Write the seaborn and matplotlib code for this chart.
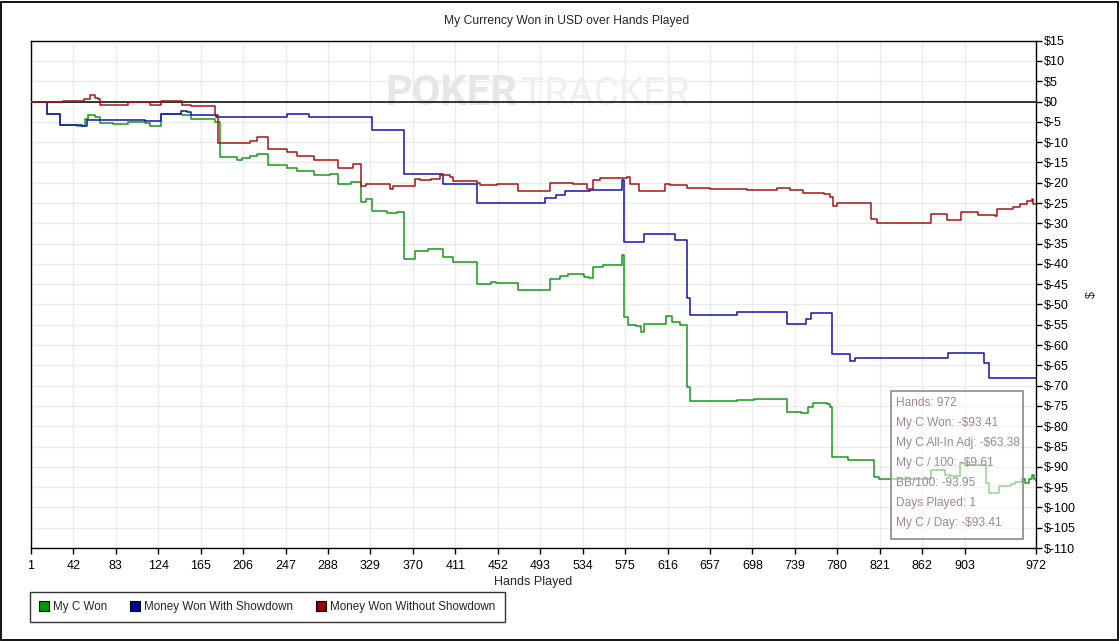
import numpy as np
import pandas as pd
import matplotlib
matplotlib.use("Agg")
import matplotlib.pyplot as plt
from matplotlib.patches import Rectangle
from matplotlib.lines import Line2D
import seaborn as sns

sns.set_style("white")
plt.rcParams['font.family'] = ['Liberation Sans', 'DejaVu Sans']

# ---------------- data ----------------
won_hands = [1, 16, 29, 45, 53, 56, 63, 68, 80, 95, 111, 116, 127, 147, 156, 179, 184, 200, 205,
             213, 219, 230, 248, 258, 274, 290, 298, 310, 320, 325, 330, 345, 355, 361, 372, 385,
             399, 409, 432, 445, 450, 472, 502, 512, 520, 530, 535, 540, 544, 554, 572, 574, 578,
             586, 590, 593, 615, 620, 628, 635, 638, 683, 700, 731, 745, 752, 757, 770, 773, 775,
             782, 790, 815, 820, 871, 884, 890, 899, 905, 924, 927, 936, 948, 952, 958, 961, 965,
             968, 970, 972]
won_vals = [0, -3.0, -5.7, -5.9, -4.3, -3.2, -3.8, -5.3, -5.5, -5.0, -5.3, -5.9, -3.0, -3.3, -4.3,
            -5.0, -13.7, -14.3, -14.0, -13.5, -13.0, -15.7, -16.3, -17.2, -18.0, -17.8, -20.2, -19.9,
            -24.8, -24.0, -27.0, -27.5, -27.3, -38.7, -36.7, -36.4, -38.3, -39.5, -44.9, -44.5, -44.8,
            -46.5, -43.6, -43.0, -42.4, -42.6, -43.2, -43.5, -40.8, -40.2, -37.9, -53.1, -55.1, -55.3,
            -56.8, -54.7, -52.9, -54.2, -55.1, -70.3, -73.9, -73.6, -73.4, -76.4, -76.8, -75.2, -74.2,
            -74.5, -75.3, -87.5, -87.6, -88.3, -92.4, -93.0, -90.8, -91.9, -92.3, -89.0, -89.5, -94.1,
            -96.5, -94.7, -94.3, -93.8, -93.1, -94.0, -93.0, -92.0, -93.0, -93.41]

sd_hands = [1, 16, 29, 50, 55, 111, 127, 146, 152, 156, 180, 248, 270, 330, 361, 399, 404, 432,
            498, 508, 517, 541, 572, 574, 593, 623, 635, 638, 683, 731, 750, 755, 775, 792, 797,
            887, 922, 927, 972]
sd_vals = [0, -3.0, -5.7, -6.0, -4.6, -4.8, -3.0, -2.2, -2.6, -3.4, -3.9, -3.1, -3.7, -7.1, -17.8,
           -20.4, -20.3, -24.9, -23.7, -23.1, -22.1, -21.9, -19.3, -34.6, -32.7, -34.0, -48.3, -52.7,
           -51.8, -54.7, -53.5, -52.0, -62.3, -63.8, -63.3, -62.0, -64.5, -68.2, -68.2]

nsd_hands = [1, 16, 32, 52, 58, 63, 66, 68, 95, 116, 127, 147, 156, 179, 182, 213, 219, 230, 248,
             258, 274, 298, 312, 320, 325, 338, 348, 351, 372, 377, 387, 396, 406, 409, 432, 435,
             451, 472, 502, 525, 538, 544, 551, 577, 580, 588, 614, 618, 635, 657, 693, 722, 734,
             747, 767, 773, 776, 780, 783, 813, 818, 871, 886, 900, 916, 932, 934, 950, 957, 963,
             968, 969, 972]
nsd_vals = [0, -0.2, 0.2, 0.7, 1.5, 1.0, 0.7, -0.8, -0.2, -0.9, 0.2, -0.8, -1.1, -3.4, -10.2, -9.6,
            -8.8, -11.8, -12.4, -13.3, -14.3, -16.4, -15.4, -20.7, -20.3, -20.2, -21.5, -20.9, -19.0,
            -19.3, -19.0, -18.2, -18.5, -19.6, -20.1, -20.5, -20.2, -22.1, -20.0, -20.3, -21.5, -19.3,
            -18.8, -18.6, -20.4, -22.1, -20.3, -20.6, -21.3, -21.5, -21.7, -21.4, -21.7, -22.5, -22.7,
            -23.5, -25.8, -25.0, -25.1, -28.9, -29.9, -27.8, -29.1, -27.2, -27.9, -28.3, -26.4, -26.0,
            -25.2, -24.6, -23.9, -25.2, -25.2]

series_names = ["My C Won", "Money Won With Showdown", "Money Won Without Showdown"]
line_colors = ["#159a15", "#1414a8", "#a81414"]
legend_colors = ["#009900", "#000099", "#990000"]

x_ticks = [1, 42, 83, 124, 165, 206, 247, 288, 329, 370, 411, 452, 493, 534, 575, 616, 657,
           698, 739, 780, 821, 862, 903, 972]
y_ticks = list(range(15, -111, -5))

stats_lines = ["Hands: 972", "My C Won: -$93.41", "My C All-In Adj: -$63.38",
               "My C / 100: -$9.61", "BB/100: -93.95", "Days Played: 1", "My C / Day: -$93.41"]

# ---------------- figure ----------------
W, H = 1120, 641
fig = plt.figure(figsize=(W / 100, H / 100), dpi=100)
ax = fig.add_axes([31 / W, 1 - 548 / H, (1036 - 31) / W, (548 - 40.7) / H])

# watermark
ax.text((385 - 31) / 1005, (548 - 105) / 507.3, "POKER", transform=ax.transAxes, fontsize=30,
        fontweight='bold', color='#e6e6e6', family='Roboto', ha='left', va='baseline', zorder=1)
ax.text((521 - 31) / 1005, (548 - 105) / 507.3, "TRACKER", transform=ax.transAxes, fontsize=28,
        color='#efefef', family='Roboto', ha='left', va='baseline', zorder=1)

for hands, vals, name, col in [(won_hands, won_vals, series_names[0], line_colors[0]),
                               (sd_hands, sd_vals, series_names[1], line_colors[1]),
                               (nsd_hands, nsd_vals, series_names[2], line_colors[2])]:
    df = pd.DataFrame({"hand": hands, "value": vals})
    sns.lineplot(data=df, x="hand", y="value", ax=ax, color=col, linewidth=1.1,
                 drawstyle="steps-post", zorder=3, legend=False)

ax.axhline(0, color='black', linewidth=1.1, zorder=2)

ax.set_xlim(1, 972)
ax.set_ylim(-110, 15)
ax.set_xticks(x_ticks)
ax.set_xticklabels([str(t) for t in x_ticks])
ax.set_yticks(y_ticks)
ax.set_yticklabels([f"${t}" for t in y_ticks])
ax.grid(True, color='#ebebeb', linewidth=1, zorder=0)
ax.set_axisbelow(True)

ax.yaxis.tick_right()
ax.yaxis.set_label_position('right')
ax.tick_params(axis='y', which='both', left=False, right=True, direction='out', length=4,
               width=1, color='black', labelsize=9, pad=2, labelcolor='black')
ax.tick_params(axis='x', which='both', bottom=True, direction='out', length=4, width=1,
               color='black', labelsize=9, pad=4.5, labelcolor='black')
for s in ax.spines.values():
    s.set_color('black')
    s.set_linewidth(1)
ax.set_xlabel("Hands Played", fontsize=9, labelpad=3)
ax.set_ylabel("$", fontsize=9, labelpad=7, rotation=90)

fig.text(567 / W, 1 - 21 / H, "My Currency Won in USD over Hands Played", ha='center',
         va='center', fontsize=8.7)

# stats box
fig.patches.append(Rectangle((890.7 / W, 1 - 539.3 / H), (1023.3 - 890.7) / W, (539.3 - 390.7) / H,
                             transform=fig.transFigure, facecolor='white', alpha=0.55,
                             edgecolor='none', zorder=5))
fig.patches.append(Rectangle((890.7 / W, 1 - 539.3 / H), (1023.3 - 890.7) / W, (539.3 - 390.7) / H,
                             transform=fig.transFigure, facecolor='none',
                             edgecolor='#8a8a8a', linewidth=1.2, zorder=6))
for i, line in enumerate(stats_lines):
    fig.text(895.5 / W, 1 - (402.7 + 20 * i) / H, line, ha='left', va='center',
             fontsize=8.6, color='#9e8596', zorder=7)

# legend
handles = [Line2D([0], [0], linestyle='none', marker='s', markersize=6.5,
                  markerfacecolor=c, markeredgecolor='black', markeredgewidth=0.8)
           for c in legend_colors]
leg = fig.legend(handles, series_names, loc='upper left',
                 bbox_to_anchor=(29.5 / W, 1 - 591.7 / H), ncol=3, fontsize=8.4,
                 frameon=True, fancybox=False, edgecolor='black', borderpad=0.8,
                 handletextpad=0.35, columnspacing=1.9, handlelength=0.9,
                 borderaxespad=0)
leg.get_frame().set_linewidth(1)

# outer frame
fig.patches.append(Rectangle((0.6 / W, 1.2 / H), (W - 2.2) / W, (H - 2.8) / H,
                             transform=fig.transFigure, fill=False, edgecolor='black',
                             linewidth=1.3, zorder=10))

fig.savefig("out.png", dpi=100, facecolor='white')
